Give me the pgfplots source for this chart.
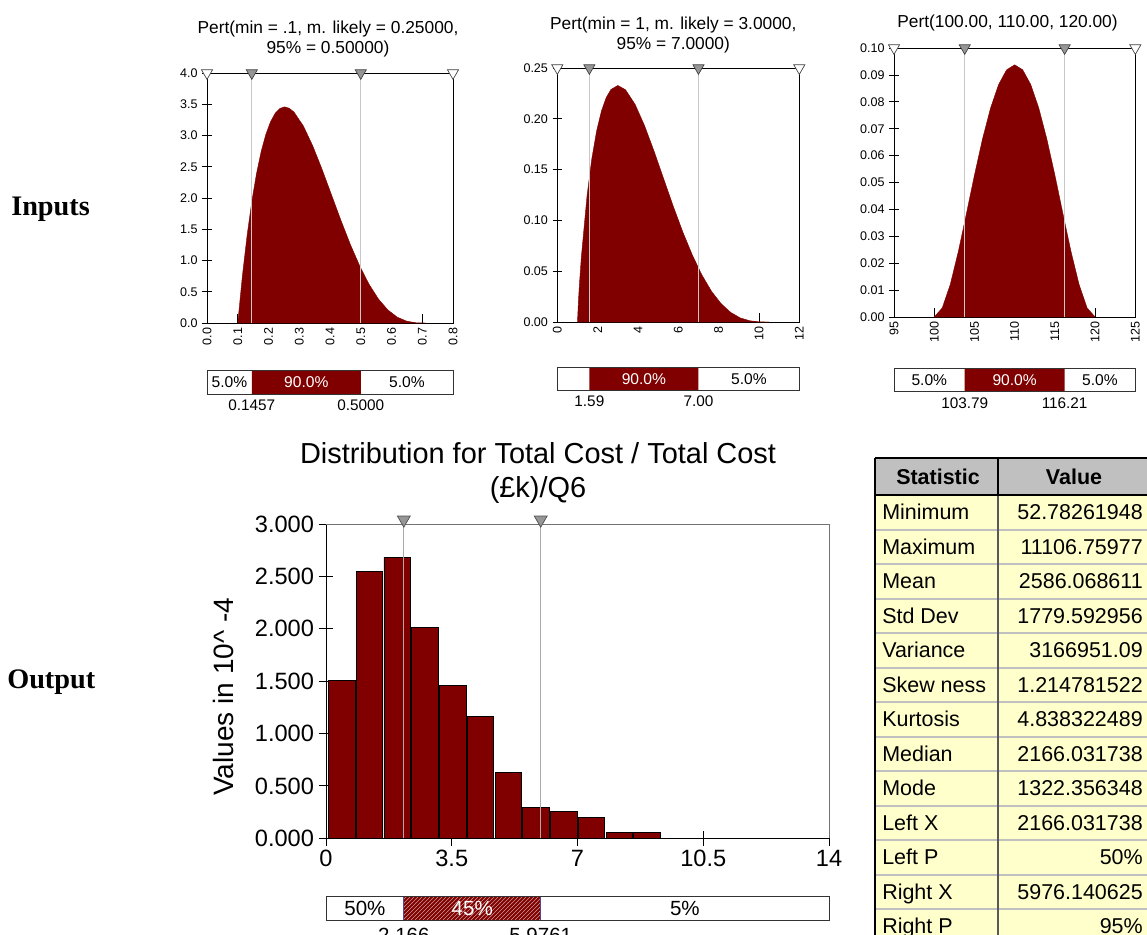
\documentclass[border=0pt]{standalone}
\usepackage{fontspec}
\setmainfont{Liberation Sans}
\newfontfamily\timesfont{Liberation Serif}
\usepackage{pgfplots}
\pgfplotsset{compat=1.18}
\usetikzlibrary{patterns}
\definecolor{darkred}{RGB}{128,0,0}
\definecolor{vline}{RGB}{200,200,200}
\definecolor{vlinem}{RGB}{170,170,170}
\definecolor{tri}{RGB}{150,150,150}
\definecolor{hdr}{RGB}{192,192,192}
\definecolor{rowbg}{RGB}{255,255,204}
\definecolor{segedge}{RGB}{80,70,150}
\newcommand{\fs}[1]{\fontsize{#1pt}{#1pt}\selectfont}

\pgfplotsset{
  pert/.style={
    scale only axis, anchor=north west, clip=false,
    axis line style={line width=0.6pt, black},
    tick style={black, line width=0.6pt},
    xtick pos=bottom, ytick pos=left,
    xtick align=inside, ytick align=center,
    major tick length=7pt,
    tick label style={font=\fs{9.4}},
    xticklabel style={rotate=90, anchor=east},
    /pgf/number format/assume math mode=true,
  },
  pbar/.style={
    scale only axis, anchor=north west, clip=false, axis on top,
    ymin=0, ymax=1, xtick=\empty, ytick=\empty,
    axis line style={line width=0.6pt, black!80},
  },
  opentri/.style={only marks, mark=triangle*, mark size=4.8pt,
    mark options={rotate=180, fill=white, draw=black!75, line width=0.5pt}},
  greytri/.style={only marks, mark=triangle*, mark size=4.8pt,
    mark options={rotate=180, fill=tri, draw=black!75, line width=0.5pt}},
}

\begin{document}
\begin{tikzpicture}
\begin{scope}[x=0.75pt, y=-0.75pt]
% side labels
\node[anchor=base west, font=\timesfont\bfseries\fs{21.2}, inner sep=0pt] at (11,215) {Inputs};
\node[anchor=base west, font=\timesfont\bfseries\fs{21.2}, inner sep=0pt] at (7,688) {Output};

% small titles
\node[anchor=base, font=\fs{13}, inner sep=0pt] at (328,33) {Pert(min = .1, m. likely = 0.25000,};
\node[anchor=base, font=\fs{13}, inner sep=0pt] at (328,53) {95\% = 0.50000)};
\node[anchor=base, font=\fs{13}, inner sep=0pt] at (673.3,29.7) {Pert(min = 1, m. likely = 3.0000,};
\node[anchor=base, font=\fs{13}, inner sep=0pt] at (673.3,49.7) {95\% = 7.0000)};
\node[anchor=base, font=\fs{13}, inner sep=0pt] at (1007.5,27.5) {Pert(100.00, 110.00, 120.00)};

% main titles
\node[anchor=base, font=\fs{21.7}, inner sep=0pt] at (538,463.5) {Distribution for Total Cost / Total Cost};
\node[anchor=base, font=\fs{21.7}, inner sep=0pt] at (538,497) {(£k)/Q6};
\node[anchor=base, rotate=90, font=\fs{21}, inner sep=0pt] at (233.3,696.7) {Values in 10\textasciicircum\ -4};

% ---------- Statistics table ----------
\begin{scope}
\clip (860,440) rectangle (1147,935);
\fill[hdr] (875,458) rectangle (1160,495);
\fill[rowbg] (875,495) rectangle (1160,950);
\foreach \i in {1,...,13} {\draw[hdr, line width=1.5pt] (875,{495+34.5*\i}) -- (1160,{495+34.5*\i});}
\draw[black!65, line width=1.2pt] (998,495) -- (998,950);
\draw[black, line width=1.3pt] (875,458) -- (1160,458);
\draw[black, line width=1.3pt] (875,495) -- (1160,495);
\draw[black, line width=1.3pt] (998,458) -- (998,495);
\draw[black, line width=1.8pt] (875,458) -- (875,950);
\node[anchor=base, font=\bfseries\fs{16.1}, inner sep=0pt] at (938,484.2) {Statistic};
\node[anchor=base, font=\bfseries\fs{16.1}, inner sep=0pt] at (1074,484.2) {Value};
\foreach \lab/\val [count=\i from 0] in {Minimum/52.78261948, Maximum/11106.75977, Mean/2586.068611, Std Dev/1779.592956, Variance/3166951.09, Skew ness/1.214781522, Kurtosis/4.838322489, Median/2166.031738, Mode/1322.356348, Left X/2166.031738, Left P/50\%, Right X/5976.140625, Right P/95\%} {
  \node[anchor=base west, font=\fs{16.1}, inner sep=0pt] at (882,{495+34.5*\i+24.95}) {\lab};
  \node[anchor=base east, font=\fs{16.1}, inner sep=0pt] at (1143,{495+34.5*\i+24.95}) {\val};
}
\end{scope}
\end{scope}

% ---------- Input 1 ----------
\begin{axis}[pert, at={(155.25pt,-54.75pt)}, width=184.5pt, height=187.5pt,
  xmin=0, xmax=0.8, ymin=0, ymax=4,
  xtick={0,0.1,0.2,0.3,0.4,0.5,0.6,0.7,0.8},
  xticklabels={0.0,0.1,0.2,0.3,0.4,0.5,0.6,0.7,0.8},
  ytick={0,0.5,1,1.5,2,2.5,3,3.5,4},
  yticklabels={0.0,0.5,1.0,1.5,2.0,2.5,3.0,3.5,4.0}]
\addplot[fill=darkred, draw=darkred, line width=0.3pt] coordinates {
(0.1,0) (0.11525,0.7597) (0.1305,1.4055) (0.14575,1.9462) (0.161,2.3902)
(0.17625,2.7456) (0.1915,3.0203) (0.20675,3.2218) (0.222,3.3574) (0.23725,3.4339)
(0.2525,3.4580) (0.26775,3.4360) (0.283,3.3738) (0.3135,3.1514) (0.344,2.8328)
(0.3745,2.4547) (0.405,2.0492) (0.4355,1.6433) (0.466,1.2590) (0.4965,0.9137)
(0.527,0.6197) (0.5575,0.3842) (0.588,0.2098) (0.6185,0.0941) (0.649,0.0295)
(0.6795,0.0039) (0.71,0)} \closedcycle;
\addplot[vline, line width=0.9pt] coordinates {(0.1457,0) (0.1457,4)};
\addplot[vline, line width=0.9pt] coordinates {(0.5,0) (0.5,4)};
\addplot[opentri] coordinates {(0,4) (0.8,4)};
\addplot[greytri] coordinates {(0.1457,4) (0.5,4)};
\end{axis}

\begin{axis}[pbar, at={(155.25pt,-278.03pt)}, width=184.5pt, height=17.5pt, xmin=0, xmax=0.8]
\addplot[fill=darkred, draw=none] coordinates {(0.1457,0) (0.1457,1) (0.5,1) (0.5,0)} \closedcycle;
\node[font=\fs{11.7}] at (axis cs:0.07285,0.5) {5.0\%};
\node[font=\fs{11.7}, text=white] at (axis cs:0.32285,0.5) {90.0\%};
\node[font=\fs{11.7}] at (axis cs:0.65,0.5) {5.0\%};
\node[font=\fs{11.5}, anchor=base, inner sep=0pt, yshift=-12pt] at (axis cs:0.1457,0) {0.1457};
\node[font=\fs{11.5}, anchor=base, inner sep=0pt, yshift=-12pt] at (axis cs:0.5,0) {0.5000};
\end{axis}

% ---------- Input 2 ----------
\begin{axis}[pert, at={(417.98pt,-51pt)}, width=181.5pt, height=190.5pt,
  xmin=0, xmax=12, ymin=0, ymax=0.25,
  xtick={0,2,4,6,8,10,12},
  xticklabels={0,2,4,6,8,10,12},
  ytick={0,0.05,0.1,0.15,0.2,0.25},
  yticklabels={0.00,0.05,0.10,0.15,0.20,0.25}]
\addplot[fill=darkred, draw=darkred, line width=0.3pt] coordinates {
(1,0) (1.0475,0.0207) (1.095,0.0366) (1.19,0.0635) (1.475,0.1245) (1.7125,0.1609)
(1.95,0.1881) (2.1875,0.2076) (2.425,0.2209) (2.6625,0.2289) (3.0,0.2328)
(3.375,0.2287) (3.85,0.2145) (4.325,0.1933) (4.8,0.1680) (5.275,0.1409)
(5.75,0.1139) (6.225,0.0885) (6.7,0.0657) (7.175,0.0461) (7.65,0.0301)
(8.125,0.0180) (8.6,0.0094) (9.075,0.0040) (9.55,0.0012) (10.025,0.0001) (10.5,0)} \closedcycle;
\addplot[vline, line width=0.9pt] coordinates {(1.59,0) (1.59,0.25)};
\addplot[vline, line width=0.9pt] coordinates {(7.0,0) (7.0,0.25)};
\addplot[opentri] coordinates {(0,0.25) (12,0.25)};
\addplot[greytri] coordinates {(1.59,0.25) (7.0,0.25)};
\end{axis}

\begin{axis}[pbar, at={(417.98pt,-275.48pt)}, width=181.5pt, height=17pt, xmin=0, xmax=12]
\addplot[fill=darkred, draw=none] coordinates {(1.59,0) (1.59,1) (7.0,1) (7.0,0)} \closedcycle;
\node[font=\fs{11.7}, text=white] at (axis cs:4.295,0.5) {90.0\%};
\node[font=\fs{11.7}] at (axis cs:9.5,0.5) {5.0\%};
\node[font=\fs{11.5}, anchor=base, inner sep=0pt, yshift=-12.75pt] at (axis cs:1.59,0) {1.59};
\node[font=\fs{11.5}, anchor=base, inner sep=0pt, yshift=-12.75pt] at (axis cs:7.0,0) {7.00};
\end{axis}

% ---------- Input 3 ----------
\begin{axis}[pert, at={(670.5pt,-36pt)}, width=181pt, height=201.75pt,
  xmin=95, xmax=125, ymin=0, ymax=0.1,
  xtick={95,100,105,110,115,120,125},
  xticklabels={95,100,105,110,115,120,125},
  ytick={0,0.01,0.02,0.03,0.04,0.05,0.06,0.07,0.08,0.09,0.1},
  yticklabels={0.00,0.01,0.02,0.03,0.04,0.05,0.06,0.07,0.08,0.09,0.10}]
\addplot[fill=darkred, draw=darkred, line width=0.3pt] coordinates {
(100,0) (101,0.003384) (102,0.01215) (103,0.024384) (104,0.0384) (105,0.052734)
(106,0.06615) (107,0.077634) (108,0.0864) (109,0.091884) (110,0.09375)
(111,0.091884) (112,0.0864) (113,0.077634) (114,0.06615) (115,0.052734)
(116,0.0384) (117,0.024384) (118,0.01215) (119,0.003384) (120,0)} \closedcycle;
\addplot[vline, line width=0.9pt] coordinates {(103.79,0) (103.79,0.1)};
\addplot[vline, line width=0.9pt] coordinates {(116.21,0) (116.21,0.1)};
\addplot[opentri] coordinates {(95,0.1) (125,0.1)};
\addplot[greytri] coordinates {(103.79,0.1) (116.21,0.1)};
\end{axis}

\begin{axis}[pbar, at={(670.5pt,-276.23pt)}, width=181pt, height=17.5pt, xmin=95, xmax=125]
\addplot[fill=darkred, draw=none] coordinates {(103.79,0) (103.79,1) (116.21,1) (116.21,0)} \closedcycle;
\node[font=\fs{11.7}] at (axis cs:99.39,0.5) {5.0\%};
\node[font=\fs{11.7}, text=white] at (axis cs:110,0.5) {90.0\%};
\node[font=\fs{11.7}] at (axis cs:120.6,0.5) {5.0\%};
\node[font=\fs{11.5}, anchor=base, inner sep=0pt, yshift=-12.5pt] at (axis cs:103.79,0) {103.79};
\node[font=\fs{11.5}, anchor=base, inner sep=0pt, yshift=-12.5pt] at (axis cs:116.21,0) {116.21};
\end{axis}

% ---------- Output ----------
\begin{axis}[scale only axis, anchor=north west, at={(244.5pt,-393pt)}, width=377.25pt, height=235.7pt,
  xmin=0, xmax=14, ymin=0, ymax=3, clip=false,
  axis x line=bottom, axis y line=left,
  axis line style={-, line width=0.7pt, black},
  tick style={black, line width=0.6pt},
  tick align=center, major tick length=11pt,
  xtick={0,3.5,7,10.5,14}, xticklabels={0,3.5,7,10.5,14},
  ytick={0,0.5,1,1.5,2,2.5,3}, yticklabels={0.000,0.500,1.000,1.500,2.000,2.500,3.000},
  tick label style={font=\fs{17.7}},
  /pgf/number format/assume math mode=true]
\addplot[ybar, bar width=0.74, bar shift=0pt, fill=darkred, draw=black, line width=0.6pt] coordinates {
 (0.439,1.508) (1.211,2.549) (1.984,2.685) (2.756,2.014) (3.529,1.457) (4.301,1.161)
 (5.074,0.630) (5.846,0.290) (6.619,0.255) (7.391,0.200) (8.164,0.057) (8.936,0.057)};
\addplot[black!55, line width=0.7pt] coordinates {(0,3) (14,3) (14,0)};
\addplot[vlinem, line width=0.8pt] coordinates {(2.166,0) (2.166,3)};
\addplot[vlinem, line width=0.8pt] coordinates {(5.9761,0) (5.9761,3)};
\addplot[only marks, mark=triangle*, mark size=5.6pt, mark options={yshift=3.2pt, rotate=180, fill=tri, draw=black!70, line width=0.5pt}] coordinates {(2.166,3) (5.9761,3)};
\end{axis}

\begin{axis}[pbar, at={(244.5pt,-672pt)}, width=377.25pt, height=18pt, xmin=0, xmax=14]
\addplot[fill=darkred, draw=segedge, line width=0.7pt, postaction={pattern=north east lines, pattern color=white!60!darkred}] coordinates {(2.166,0) (2.166,1) (5.9761,1) (5.9761,0)} \closedcycle;
\node[font=\fs{15.4}] at (axis cs:1.083,0.5) {50\%};
\node[font=\fs{15.4}, text=white] at (axis cs:4.071,0.5) {45\%};
\node[font=\fs{15.4}] at (axis cs:9.988,0.5) {5\%};
\node[font=\fs{15.4}, anchor=base, inner sep=0pt, yshift=-17pt] at (axis cs:2.166,0) {2.166};
\node[font=\fs{15.4}, anchor=base, inner sep=0pt, yshift=-17pt] at (axis cs:5.9761,0) {5.9761};
\end{axis}

\pgfresetboundingbox
\path[use as bounding box] (0pt,0pt) rectangle (860.25pt,-701.25pt);
\end{tikzpicture}
\end{document}
